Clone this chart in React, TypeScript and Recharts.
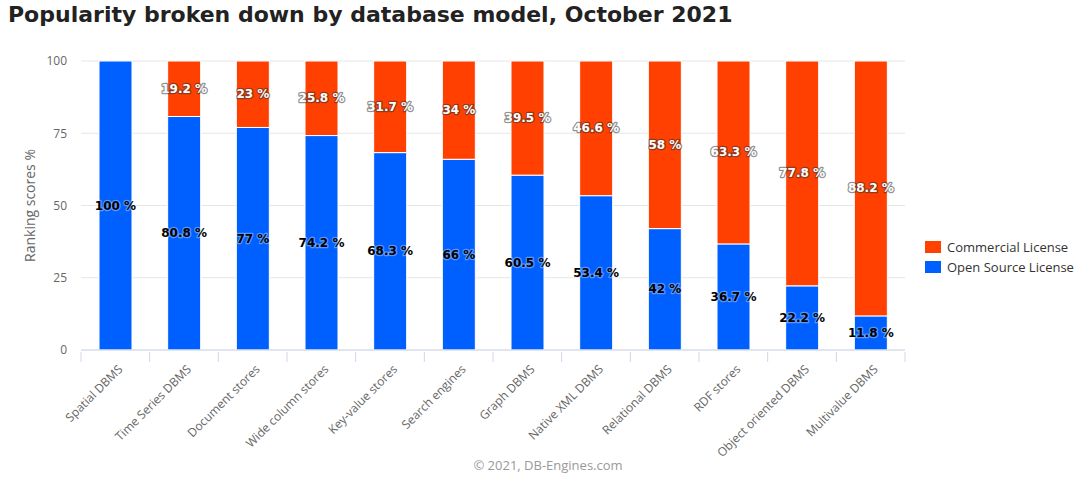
import React from "react";
import { Bar, BarChart, CartesianGrid, LabelList, XAxis, YAxis } from "recharts";

const categories = [
  "Spatial DBMS",
  "Time Series DBMS",
  "Document stores",
  "Wide column stores",
  "Key-value stores",
  "Search engines",
  "Graph DBMS",
  "Native XML DBMS",
  "Relational DBMS",
  "RDF stores",
  "Object oriented DBMS",
  "Multivalue DBMS",
];
const openSource = [100, 80.8, 77, 74.2, 68.3, 66, 60.5, 53.4, 42, 36.7, 22.2, 11.8];
const commercial = [0, 19.2, 23, 25.8, 31.7, 34, 39.5, 46.6, 58, 63.3, 77.8, 88.2];
const yTicks = [0, 25, 50, 75, 100];

const data = categories.map((name, i) => ({ name, open: openSource[i], commercial: commercial[i] }));

const BLUE = "#0060ff";
const ORANGE = "#ff4000";
const PLOT_LEFT = 81;
const PLOT_RIGHT = 905;
const BAND = (PLOT_RIGHT - PLOT_LEFT) / categories.length;

function CategoryTick(props: any) {
  const { x, y, payload, index } = props;
  const left = x - BAND / 2;
  return (
    <g>
      <line x1={left} y1={y - 8} x2={left} y2={y + 2} stroke="#ccd6eb" />
      {index === categories.length - 1 && (
        <line x1={x + BAND / 2} y1={y - 8} x2={x + BAND / 2} y2={y + 2} stroke="#ccd6eb" />
      )}
      <text
        x={0}
        y={0}
        transform={`translate(${x + 5},${y + 7}) rotate(-45)`}
        textAnchor="end"
        dy="0.35em"
        fill="#666"
        fontSize={12}
        fontFamily="'Open Sans', sans-serif"
      >
        {payload.value}
      </text>
    </g>
  );
}

function makeLabel(light: boolean) {
  return function ValueLabel(props: any) {
    const { x, y, width, height, value } = props;
    if (!value) return null;
    return (
      <text
        x={x + width / 2}
        y={y + height / 2}
        textAnchor="middle"
        dominantBaseline="central"
        fontSize={12}
        fontWeight="bold"
        fontFamily="'DejaVu Sans', sans-serif"
        fill={light ? "#fff" : "#000"}
        stroke={light ? "#333" : "#fff"}
        strokeOpacity={light ? 0.55 : 0.35}
        strokeWidth={2.5}
        strokeLinejoin="round"
        paintOrder="stroke"
      >
        {value} %
      </text>
    );
  };
}

function LegendBox() {
  const items = [
    { label: "Commercial License", color: ORANGE },
    { label: "Open Source License", color: BLUE },
  ];
  return (
    <div
      style={{
        position: "absolute",
        left: 925,
        top: 237,
        fontFamily: "'Open Sans', sans-serif",
        fontSize: 13,
        color: "#333",
        whiteSpace: "nowrap",
      }}
    >
      {items.map((it) => (
        <div key={it.label} style={{ display: "flex", alignItems: "center", height: 20 }}>
          <span style={{ display: "inline-block", width: 16, height: 12, background: it.color, marginRight: 6 }} />
          {it.label}
        </div>
      ))}
    </div>
  );
}

export default function App() {
  return (
    <div style={{ position: "absolute", left: 0, top: 0, width: 1080, height: 480, background: "#fff" }}>
      <div
        style={{
          position: "absolute",
          left: 8,
          top: 2,
          fontFamily: "'DejaVu Sans', sans-serif",
          fontWeight: "bold",
          fontSize: 22,
          color: "#222",
          whiteSpace: "nowrap",
        }}
      >
        Popularity broken down by database model, October 2021
      </div>
      <BarChart
        width={1080}
        height={480}
        data={data}
        margin={{ top: 61, right: 1080 - PLOT_RIGHT, left: 0, bottom: 0 }}
        barSize={33}
      >
        <CartesianGrid horizontal vertical={false} stroke="#e6e6e6" />
        <XAxis
          dataKey="name"
          height={130}
          interval={0}
          axisLine={{ stroke: "#ccd6eb" }}
          tickLine={false}
          tickSize={8}
          tick={<CategoryTick />}
        />
        <YAxis
          width={PLOT_LEFT}
          domain={[0, 100]}
          ticks={yTicks}
          axisLine={false}
          tickLine={false}
          tickSize={0}
          tickMargin={14}
          tick={{ fill: "#666", fontSize: 12, fontFamily: "'Open Sans', sans-serif" }}
          label={{
            value: "Ranking scores %",
            angle: -90,
            position: "insideLeft",
            offset: 30,
            style: { textAnchor: "middle", fill: "#666", fontSize: 14, fontFamily: "'Open Sans', sans-serif" },
          }}
        />
        <Bar dataKey="open" stackId="a" fill={BLUE} stroke="#fff" strokeWidth={1} isAnimationActive={false}>
          <LabelList dataKey="open" content={makeLabel(false)} />
        </Bar>
        <Bar dataKey="commercial" stackId="a" fill={ORANGE} stroke="#fff" strokeWidth={1} isAnimationActive={false}>
          <LabelList dataKey="commercial" content={makeLabel(true)} />
        </Bar>
      </BarChart>
      <LegendBox />
      <div
        style={{
          position: "absolute",
          left: 0,
          width: 1096,
          top: 456,
          textAlign: "center",
          fontFamily: "'Open Sans', sans-serif",
          fontSize: 13,
          color: "#999",
        }}
      >
        © 2021, DB-Engines.com
      </div>
    </div>
  );
}
